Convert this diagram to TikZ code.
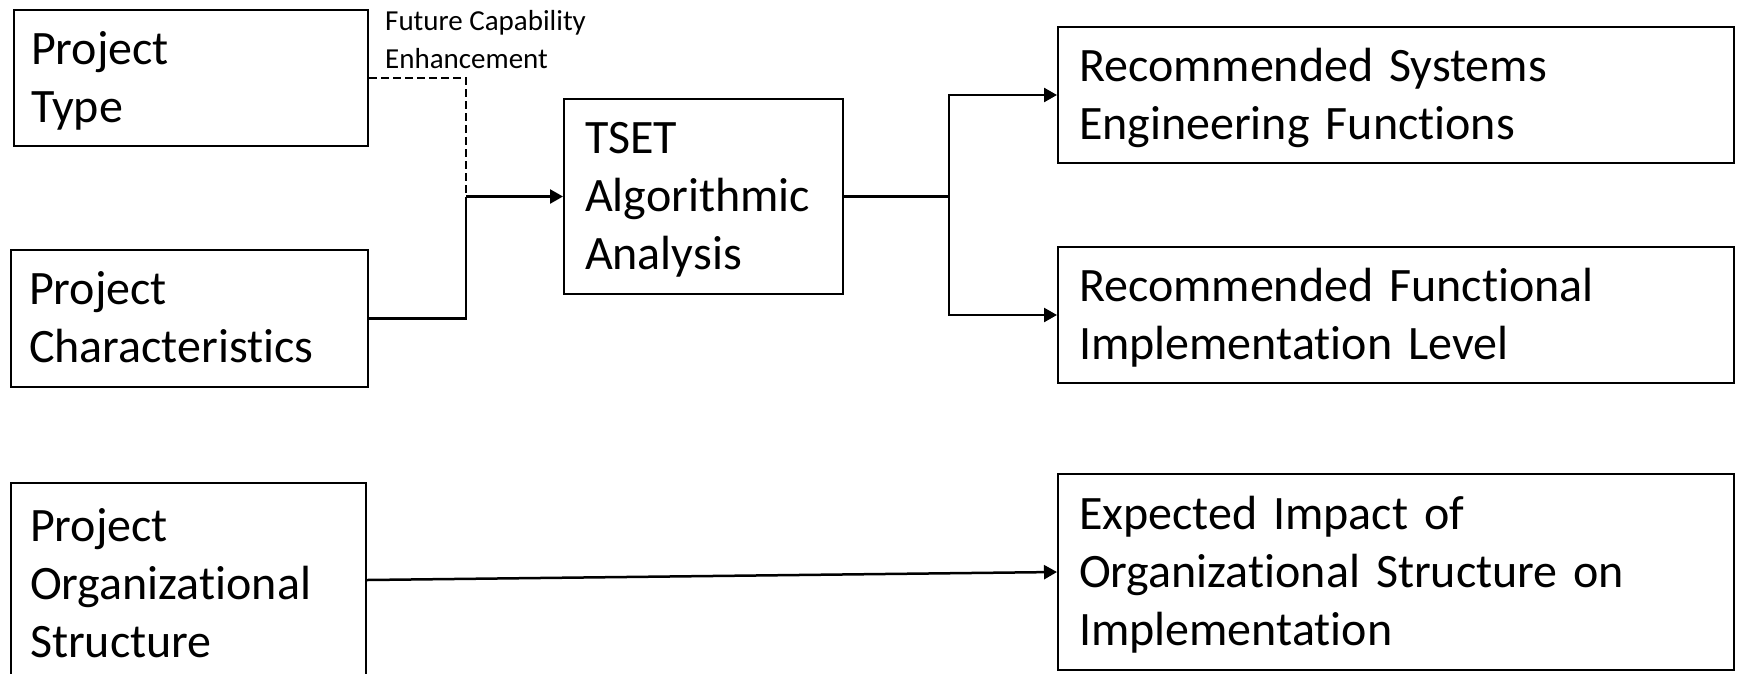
\documentclass[tikz,border=0pt]{standalone}
\usepackage{fontspec}
\setmainfont{Carlito}[Ligatures=NoCommon]
\usetikzlibrary{arrows.meta}

\begin{document}
\begin{tikzpicture}[x=1pt,y=-1pt,
  box/.style={draw=black, line width=2pt, rectangle, align=left,
    inner ysep=0pt, font=\fontsize{48}{58}\selectfont,
    % fixed first-line height and last-line depth for even vertical placement
    execute at begin node={\rule{0pt}{42pt}},
    execute at end node={\rule[-12pt]{0pt}{12pt}}},
  conn/.style={draw=black, line width=2.5pt},
  tip/.style={-{Triangle[length=13pt,width=14pt]}},
  dashconn/.style={draw=black, line width=2.4pt, dash pattern=on 8pt off 4pt},
]
\useasboundingbox (0,0) rectangle (1737,673);

% input boxes
\node[box, minimum width=354pt, minimum height=136pt, text width=320pt, inner xsep=17pt]
  (pt) at (191,78) {Project\\Type};
\node[box, minimum width=357pt, minimum height=137pt, text width=321pt, inner xsep=18pt]
  (pc) at (189.5,318.5) {Project\\Characteristics};
\node[box, minimum width=355pt, minimum height=202pt, text width=317pt, inner xsep=19pt]
  (po) at (188.5,584) {Project\\Organizational\\Structure};

% analysis box
\node[box, minimum width=279pt, minimum height=195pt, text width=237pt, inner xsep=21pt]
  (tset) at (703.5,196.5) {TSET\\Algorithmic\\Analysis};

% output boxes
\node[box, minimum width=676pt, minimum height=136pt, text width=634pt, inner xsep=21pt]
  (rs) at (1396,95) {Recommended Systems\\Engineering Functions};
\node[box, minimum width=676pt, minimum height=136pt, text width=634pt, inner xsep=21pt]
  (rf) at (1396,315) {Recommended Functional\\Implementation Level};
\node[box, minimum width=676pt, minimum height=196pt, text width=634pt, inner xsep=21pt]
  (ei) at (1396,572) {Expected Impact of\\Organizational Structure on\\Implementation};

% dashed-line label
\node[anchor=north west, align=left, inner sep=0pt, font=\fontsize{29}{38}\selectfont]
  (fce) at (385,10) {Future Capability\\Enhancement};

% junction points
\coordinate (j) at (466,196.5);
\coordinate (k) at (949,196.5);

% connectors
\draw[dashconn] (pt.east) -| (j);
\draw[conn] (pc.east) -| (j);
\draw[conn, tip] (j) -- (tset.west);
\draw[conn] (tset.east) -- (k);
\draw[conn, tip] (k) |- (rs.west);
\draw[conn, tip] (k) |- (rf.west);
\draw[conn, tip] (po.east |- 0,580) -- (ei.west);
\end{tikzpicture}
\end{document}
